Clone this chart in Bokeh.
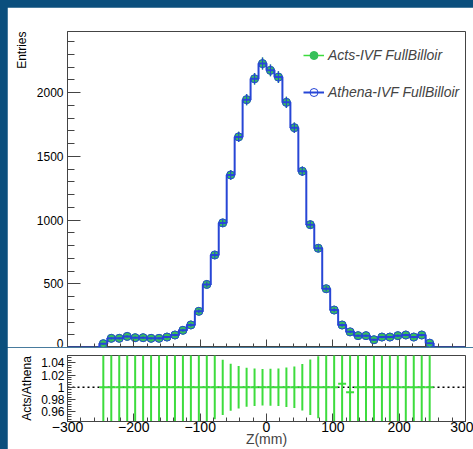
import numpy as np
from bokeh.plotting import figure
from bokeh.layouts import column
from bokeh.models import Range1d, FixedTicker, Title, Legend, LegendItem
from bokeh.embed import file_html
from bokeh.resources import INLINE

# Histogram binning: 50 bins of 12 mm on [-300, 300]; the filled bins cover [-252, 252]
z_lo, z_hi, n_bins = -300.0, 300.0, 50
first_filled_bin = 4

acts_counts = [30, 72, 72, 87, 77, 77, 72, 72, 82, 98,
               135, 177, 284, 495, 726, 978, 1354, 1653, 1945, 2109,
               2228, 2175, 2122, 1924, 1725, 1383, 964, 779, 461, 294,
               177, 122, 93, 93, 61, 82, 82, 93, 98, 82,
               98, 34]
athena_counts = [30, 72, 72, 87, 77, 77, 72, 72, 82, 98,
                 135, 177, 284, 495, 726, 978, 1354, 1653, 1945, 2109,
                 2228, 2175, 2122, 1924, 1725, 1383, 964, 779, 461, 294,
                 176, 123, 93, 93, 61, 82, 82, 93, 98, 82,
                 98, 34]

x_ticks = [-300, -200, -100, 0, 100, 200, 300]
x_tick_labels = ["\u2212300", "\u2212200", "\u2212100", "0", "100", "200", "300"]
entries_ticks = [0, 500, 1000, 1500, 2000]
ratio_ticks = [0.96, 0.98, 1.0, 1.02, 1.04]
ratio_tick_labels = ["0.96", "0.98", "1", "1.02", "1.04"]

FONT = "Liberation Sans"
GREEN = "#3ddc3d"
GREEN_PT = "#36c05a"
BLUE = "#2746d6"
FRAME = "#444444"
SLIDE_BG = "#0b4f7d"

edges = np.linspace(z_lo, z_hi, n_bins + 1)
centers = 0.5 * (edges[:-1] + edges[1:])
half_w = 0.5 * (edges[1] - edges[0])

acts = np.array(acts_counts, dtype=float)
athena = np.array(athena_counts, dtype=float)
zc = centers[first_filled_bin:first_filled_bin + len(acts)]

athena_full = np.zeros(n_bins)
athena_full[first_filled_bin:first_filled_bin + len(athena)] = athena

ratio = acts / athena
ratio_err = ratio * np.sqrt(1.0 / acts + 1.0 / athena)


def style_axis(ax, label_size, tick_in, minor_in, standoff):
    ax.axis_line_color = FRAME
    ax.major_tick_line_color = FRAME
    ax.minor_tick_line_color = FRAME
    ax.major_tick_in = tick_in
    ax.major_tick_out = 0
    ax.minor_tick_in = minor_in
    ax.minor_tick_out = 0
    ax.major_label_text_font = FONT
    ax.major_label_text_font_size = label_size
    ax.major_label_text_color = "black"
    ax.major_label_standoff = standoff


# ---------------- upper pad: Z distributions ----------------
p1 = figure(width=466, height=340, x_range=Range1d(z_lo, z_hi), y_range=Range1d(0, 2480),
            output_backend="svg", toolbar_location=None,
            min_border_left=56, min_border_right=8, min_border_top=24, min_border_bottom=0,
            outline_line_color=FRAME, border_fill_color="white", background_fill_color="white")
p1.margin = (7, 0, 0, 7)
p1.grid.visible = False

# x ticks on the upper pad carry no labels (they sit on the ratio pad)
p1.xaxis.ticker = FixedTicker(ticks=x_ticks, minor_ticks=list(range(-300, 301, 20)))
style_axis(p1.xaxis[0], "12px", 8, 4, 0)
p1.xaxis.major_label_overrides = {t: "" for t in x_ticks}
p1.yaxis.ticker = FixedTicker(ticks=entries_ticks, minor_ticks=list(range(0, 2500, 100)))
style_axis(p1.yaxis[0], "12px", 13, 7, 4)
p1.add_layout(Title(text="Entries", align="right", text_font=FONT, text_font_size="12px",
                    text_font_style="normal", text_color="black"), "left")

# Acts: filled green points with error bars
acts_err = np.sqrt(acts)
acts_bars = p1.segment(zc, acts - acts_err, zc, acts + acts_err, line_color=GREEN, line_width=1.5)
acts_pts = p1.scatter(zc, acts, size=8, marker="circle", fill_color=GREEN_PT,
                      line_color=GREEN_PT)

# Athena: blue histogram outline, open markers and error bars
athena_err = np.sqrt(athena)
athena_line = p1.step(list(edges), list(athena_full) + [athena_full[-1]], mode="after",
                      line_color=BLUE, line_width=2)
p1.segment(zc, athena - athena_err, zc, athena + athena_err, line_color=BLUE, line_width=1.2)
athena_pts = p1.scatter(zc, athena, size=8, marker="circle", fill_color=None,
                        line_color=BLUE, line_width=1.0)

legend = Legend(items=[LegendItem(label="Acts-IVF FullBilloir", renderers=[acts_bars, acts_pts]),
                       LegendItem(label="Athena-IVF FullBilloir", renderers=[athena_line, athena_pts])],
                location=(236, 245), glyph_width=21, glyph_height=20, label_height=20,
                spacing=17, padding=0, margin=0, label_standoff=4,
                label_text_font=FONT, label_text_font_size="14px", label_text_font_style="italic",
                border_line_color=None, background_fill_alpha=0)
p1.add_layout(legend)

# ---------------- lower pad: ratio ----------------
p2 = figure(width=466, height=102, x_range=p1.x_range, y_range=Range1d(0.944, 1.052),
            output_backend="svg", toolbar_location=None,
            min_border_left=56, min_border_right=8, min_border_top=8, min_border_bottom=0,
            outline_line_color=FRAME, border_fill_color="white", background_fill_color="white")
p2.margin = (0, 0, 0, 7)
p2.grid.visible = False

p2.xaxis.ticker = FixedTicker(ticks=x_ticks, minor_ticks=list(range(-300, 301, 20)))
p2.xaxis.major_label_overrides = dict(zip(x_ticks, x_tick_labels))
style_axis(p2.xaxis[0], "14px", 8, 4, 0)
p2.xaxis.axis_label = "Z(mm)"
p2.xaxis.axis_label_text_font = FONT
p2.xaxis.axis_label_text_font_size = "14px"
p2.xaxis.axis_label_text_font_style = "normal"
p2.xaxis.axis_label_standoff = -4

p2.yaxis.ticker = FixedTicker(ticks=ratio_ticks,
                              minor_ticks=[round(0.944 + 0.004 * i, 3) for i in range(28)])
p2.yaxis.major_label_overrides = dict(zip(ratio_ticks, ratio_tick_labels))
style_axis(p2.yaxis[0], "12px", 8, 4, 3)
p2.add_layout(Title(text="Acts/Athena", align="center", text_font=FONT, text_font_size="12px",
                    text_font_style="normal", text_color="black"), "left")

p2.line([z_lo, z_hi], [1.0, 1.0], line_color="black", line_width=1.5, line_dash="2 3")
p2.segment(zc, ratio - ratio_err, zc, ratio + ratio_err, line_color=GREEN, line_width=2)
p2.segment(zc - half_w, ratio, zc + half_w, ratio, line_color=GREEN, line_width=2)

layout = column(p1, p2, styles={"background-color": SLIDE_BG})

open("out.html", "w").write(file_html(layout, INLINE))
